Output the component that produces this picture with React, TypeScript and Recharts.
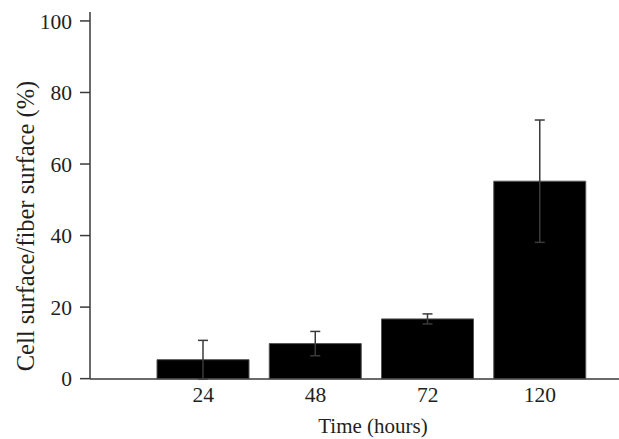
import { Bar, BarChart, ErrorBar, Label, XAxis, YAxis } from "recharts";

const hours = ["24", "48", "72", "120"];
const coverage = [5.3, 9.8, 16.7, 55.2];
const sd = [5.4, 3.4, 1.4, 17.1];
const yTicks = [0, 20, 40, 60, 80, 100];

const data = hours.map((h, i) => ({ h, v: coverage[i], e: sd[i] }));

const FONT = "'Liberation Serif', 'Times New Roman', serif";
const INK = "#231f20";

export default function App() {
  return (
    <div style={{ position: "absolute", left: 0, top: 0, background: "#fff" }}>
      <BarChart
        width={619}
        height={439}
        data={data}
        margin={{ top: 12, right: 0, bottom: 0, left: 0 }}
        barSize={92}
      >
        <XAxis
          dataKey="h"
          padding={{ left: 57, right: 23 }}
          tickLine={false}
          axisLine={{ stroke: "#3a3a3a", strokeWidth: 1.5 }}
          tick={{ fontFamily: FONT, fontSize: 21.5, fill: INK }}
          tickSize={6}
          tickMargin={2}
          height={60}
        >
          <Label
            content={() => (
              <text x={373} y={426} textAnchor="middle" dominantBaseline="central" fontFamily={FONT} fontSize={21} fill={INK}>
                Time (hours)
              </text>
            )}
          />
        </XAxis>
        <YAxis
          domain={[0, 102.5]}
          ticks={yTicks}
          width={90}
          tickSize={10}
          tickMargin={8}
          axisLine={{ stroke: "#3a3a3a", strokeWidth: 1.5 }}
          tickLine={{ stroke: "#3a3a3a", strokeWidth: 1.5 }}
          tick={{ fontFamily: FONT, fontSize: 21.5, fill: INK }}
        >
          <Label
            content={() => (
              <text
                x={25}
                y={226}
                transform="rotate(-90, 25, 226)"
                textAnchor="middle"
                dominantBaseline="central"
                fontFamily={FONT}
                fontSize={24.5}
                fill={INK}
              >
                Cell surface/fiber surface (%)
              </text>
            )}
          />
        </YAxis>
        <Bar dataKey="v" fill="#000" stroke="#555" strokeWidth={1} isAnimationActive={false}>
          <ErrorBar dataKey="e" width={5} stroke="#3a3a3a" strokeWidth={1.5} direction="y" isAnimationActive={false} />
        </Bar>
      </BarChart>
    </div>
  );
}
